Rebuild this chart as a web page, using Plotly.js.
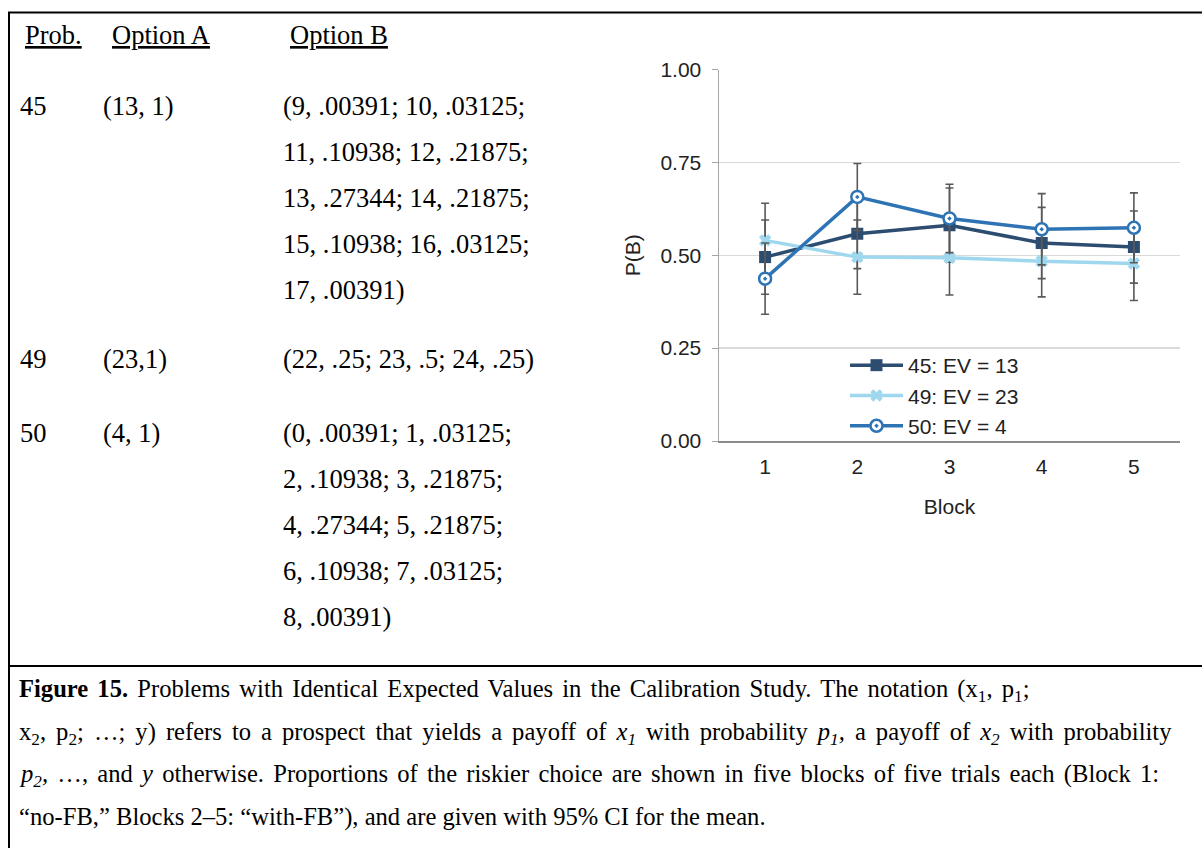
<!DOCTYPE html>
<html><head><meta charset="utf-8">
<script src="https://cdn.plot.ly/plotly-3.0.1.min.js"></script>
<style>html,body{margin:0;padding:0;background:#fff;} #chart{width:1202px;height:848px;}</style>
</head><body><div id="chart"></div>
<script>
// ---- data ----
const blocks = [1, 2, 3, 4, 5];
const seriesNames = ['45: EV = 13', '49: EV = 23', '50: EV = 4'];
const pB45 = [0.495, 0.558, 0.581, 0.533, 0.522];
const pB49 = [0.540, 0.495, 0.493, 0.484, 0.478];
const pB50 = [0.437, 0.657, 0.599, 0.570, 0.574];
const ci45 = [0.100, 0.094, 0.100, 0.096, 0.097];
const ci49 = [0.100, 0.100, 0.100, 0.096, 0.100];
const ci50 = [0.096, 0.090, 0.092, 0.096, 0.094];
const yTickVals = [0, 0.25, 0.5, 0.75, 1];
const yTickText = ['0.00', '0.25', '0.50', '0.75', '1.00'];
const xTitle = 'Block';
const yTitle = 'P(B)';

const tableHeader = ['Prob.', 'Option A', 'Option B'];
const probIds = ['45', '49', '50'];
const optionA = ['(13, 1)', '(23,1)', '(4, 1)'];
const optionB45 = ['(9, .00391; 10, .03125;', '11, .10938; 12, .21875;', '13, .27344; 14, .21875;', '15, .10938; 16, .03125;', '17, .00391)'];
const optionB49 = ['(22, .25; 23, .5; 24, .25)'];
const optionB50 = ['(0, .00391; 1, .03125;', '2, .10938; 3, .21875;', '4, .27344; 5, .21875;', '6, .10938; 7, .03125;', '8, .00391)'];
const captionLines = [
  '<b>Figure 15.</b> Problems with Identical Expected Values in the Calibration Study. The notation (x<sub>1</sub>, p<sub>1</sub>;',
  'x<sub>2</sub>, p<sub>2</sub>; …; y) refers to a prospect that yields a payoff of <i>x<sub>1</sub></i> with probability <i>p<sub>1</sub>,</i> a payoff of <i>x<sub>2</sub></i> with probability',
  '<i>p<sub>2</sub>,</i> …, and <i>y</i> otherwise. Proportions of the riskier choice are shown in five blocks of five trials each (Block 1:',
  '“no-FB,” Blocks 2–5: “with-FB”), and are given with 95% CI for the mean.'
];

// ---- layout helpers ----
const W = 1202, H = 848;
const px = x => x / W;
const py = y => 1 - y / H;
const serif = 'Liberation Serif, Times New Roman, serif';
const sans = 'Liberation Sans, Arial, sans-serif';
const tableSize = 26.5, capSize = 24.6;
const capWordSpacing = [3, 3.9, 3.1, 0];
const chartFont = 21;

const annotations = [];
function addText(text, x, y, size, extra) {
  annotations.push(Object.assign({
    text: text, xref: 'paper', yref: 'paper', x: px(x), y: py(y),
    xanchor: 'left', yanchor: 'middle', showarrow: false, borderpad: 0,
    font: {family: serif, size: size, color: '#000'}
  }, extra || {}));
}
// table header
const headerX = [24, 111, 289];
tableHeader.forEach((t, i) => addText('<u>' + t + '</u>', headerX[i], 35, tableSize));
// rows
const rowY = [106, 359, 433];
const optB = [optionB45, optionB49, optionB50];
const lineGap = 46;
probIds.forEach((p, i) => {
  addText(p, 19, rowY[i], tableSize);
  addText(optionA[i], 102, rowY[i], tableSize);
  optB[i].forEach((l, j) => addText(l, 282, rowY[i] + j * lineGap, tableSize));
});
// caption
const capY = [690, 733, 775, 817];
captionLines.forEach((l, i) => addText('<span style="word-spacing:' + capWordSpacing[i] + 'px">' + l + '</span>', 18, capY[i], capSize));

const shapes = [
  {type: 'line', xref: 'paper', yref: 'paper', x0: px(8), x1: 1, y0: py(12.5), y1: py(12.5), line: {color: '#000', width: 2}},
  {type: 'line', xref: 'paper', yref: 'paper', x0: px(9), x1: px(9), y0: py(12), y1: 0, line: {color: '#000', width: 2}},
  {type: 'line', xref: 'paper', yref: 'paper', x0: px(8), x1: 1, y0: py(666), y1: py(666), line: {color: '#000', width: 2}}
];

const colors = ['#2d4d70', '#9fd8ee', '#2e74b5'];
function errs(a) { return {type: 'data', array: a, visible: true, color: '#595959', thickness: 1.6, width: 4}; }
const traces = [
  {x: blocks, y: pB45, name: seriesNames[0], type: 'scatter', mode: 'lines+markers',
   line: {color: colors[0], width: 3.5}, marker: {symbol: 'square', size: 12, color: colors[0]}, error_y: errs(ci45)},
  {x: blocks, y: pB49, name: seriesNames[1], type: 'scatter', mode: 'lines+markers',
   line: {color: colors[1], width: 3.5}, marker: {symbol: 'x', size: 11, color: colors[1]}, error_y: errs(ci49)},
  {x: blocks, y: pB50, name: seriesNames[2], type: 'scatter', mode: 'lines+markers',
   line: {color: colors[2], width: 3.5}, marker: {symbol: 'circle-dot', size: 12, color: '#ffffff', line: {color: colors[2], width: 2.5}}, error_y: errs(ci50)}
];

const layout = {
  width: W, height: H,
  margin: {l: 0, r: 0, t: 0, b: 0},
  paper_bgcolor: '#fff', plot_bgcolor: '#fff',
  font: {family: sans, size: chartFont, color: '#222'},
  showlegend: true,
  legend: {x: px(845), y: py(345), xanchor: 'left', yanchor: 'top', bgcolor: 'rgba(0,0,0,0)',
           font: {family: sans, size: chartFont, color: '#222'}, itemwidth: 53, tracegroupgap: 0},
  xaxis: {domain: [px(719), px(1180)], range: [0.5, 5.5], tickvals: blocks, ticktext: blocks.map(String),
          showgrid: false, zeroline: false, showline: true, linecolor: '#8c8c8c', linewidth: 2,
          ticks: '', ticklabelstandoff: 6, tickfont: {family: sans, size: chartFont, color: '#222'},
          title: {text: xTitle, font: {family: sans, size: chartFont, color: '#222'}, standoff: 22}, fixedrange: true},
  yaxis: {domain: [py(441), py(69.5)], range: [0, 1], tickvals: yTickVals, ticktext: yTickText,
          showgrid: true, gridcolor: '#d9d9d9', gridwidth: 1.5, zeroline: false,
          showline: true, linecolor: '#a6a6a6', linewidth: 1.5, ticks: 'outside', ticklen: 6, tickcolor: '#a6a6a6',
          ticklabelstandoff: 6, tickfont: {family: sans, size: chartFont, color: '#222'},
          title: {text: yTitle, font: {family: sans, size: chartFont, color: '#222'}, standoff: 14}, fixedrange: true},
  annotations: annotations,
  shapes: shapes
};
Plotly.newPlot('chart', traces, layout, {displayModeBar: false, staticPlot: true});
</script></body></html>
